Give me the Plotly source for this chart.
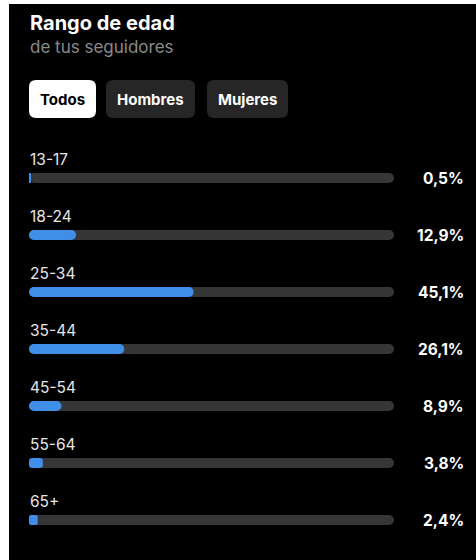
import plotly.graph_objects as go

# ---- data ----
age_groups = ["13-17", "18-24", "25-34", "35-44", "45-54", "55-64", "65+"]
percentages = [0.5, 12.9, 45.1, 26.1, 8.9, 3.8, 2.4]
tab_labels = ["Todos", "Hombres", "Mujeres"]
title_text = "Rango de edad"
subtitle_text = "de tus seguidores"

W, H = 476, 560
FONT = "Inter, Roboto, 'Open Sans', sans-serif"
BLUE = "#3f8ee8"
TRACK = "#363636"
BAR_W = 0.1754


def px(x):
    return x / W


def py(y):
    return 1 - y / H


def rounded_rect(x0, y0, x1, y1, r):
    pts = [
        f"M {px(x0 + r)},{py(y0)}",
        f"L {px(x1 - r)},{py(y0)}",
        f"Q {px(x1)},{py(y0)} {px(x1)},{py(y0 + r)}",
        f"L {px(x1)},{py(y1 - r)}",
        f"Q {px(x1)},{py(y1)} {px(x1 - r)},{py(y1)}",
        f"L {px(x0 + r)},{py(y1)}",
        f"Q {px(x0)},{py(y1)} {px(x0)},{py(y1 - r)}",
        f"L {px(x0)},{py(y0 + r)}",
        f"Q {px(x0)},{py(y0)} {px(x0 + r)},{py(y0)}",
        "Z",
    ]
    return " ".join(pts)


def pill(values, color, hover):
    # two rounded half-bars from the middle + a square filler over the joint
    halves = [v / 2 for v in values]
    out = []
    for sign in (1, -1):
        out.append(go.Bar(
            y=age_groups, x=[sign * h for h in halves], base=halves,
            orientation="h", width=BAR_W,
            marker=dict(color=color, line=dict(width=0), cornerradius=5),
            hoverinfo="skip", showlegend=False,
        ))
    out.append(go.Bar(
        y=age_groups, x=halves, base=[v / 4 for v in values],
        orientation="h", width=BAR_W,
        marker=dict(color=color, line=dict(width=0)),
        customdata=values,
        hovertemplate="%{y}: %{customdata}%<extra></extra>" if hover else None,
        hoverinfo=None if hover else "skip",
        showlegend=False,
    ))
    return out


fig = go.Figure()
for t in pill([100] * len(age_groups), TRACK, False):
    fig.add_trace(t)
for t in pill(percentages, BLUE, True):
    fig.add_trace(t)

annotations = []
for g, v in zip(age_groups, percentages):
    annotations.append(dict(
        x=px(28), xref="paper", y=g, yref="y", yshift=19,
        text=g, showarrow=False, xanchor="left", yanchor="middle",
        font=dict(family=FONT, size=15.5, color="#e6e6e6"),
    ))
    annotations.append(dict(
        x=px(466), xref="paper", y=g, yref="y",
        text="<b>" + f"{v:.1f}".replace(".", ",") + "%</b>",
        showarrow=False, xanchor="right", yanchor="middle",
        font=dict(family=FONT, size=15.5, color="#ffffff"),
    ))

annotations.append(dict(
    x=px(28), y=py(23), xref="paper", yref="paper", text="<b>" + title_text + "</b>",
    showarrow=False, xanchor="left", yanchor="middle",
    font=dict(family=FONT, size=20, color="#ffffff"),
))
annotations.append(dict(
    x=px(28), y=py(47), xref="paper", yref="paper", text=subtitle_text,
    showarrow=False, xanchor="left", yanchor="middle",
    font=dict(family=FONT, size=17, color="#8a8a8a"),
))

shapes = [
    dict(type="rect", xref="paper", yref="paper", x0=0, x1=px(9), y0=0, y1=1,
         fillcolor="white", line=dict(width=0), layer="below"),
    dict(type="rect", xref="paper", yref="paper", x0=0, x1=1, y0=py(4), y1=1,
         fillcolor="white", line=dict(width=0), layer="below"),
]

btn_boxes = [(29, 96), (106, 195), (207, 288)]
for i, (lab, (bx0, bx1)) in enumerate(zip(tab_labels, btn_boxes)):
    active = i == 0
    shapes.append(dict(
        type="path", xref="paper", yref="paper",
        path=rounded_rect(bx0, 80, bx1, 118, 7),
        fillcolor="#ffffff" if active else "#262626",
        line=dict(width=0), layer="below",
    ))
    annotations.append(dict(
        x=px((bx0 + bx1) / 2), y=py(99.5), xref="paper", yref="paper",
        text="<b>" + lab + "</b>", showarrow=False,
        xanchor="center", yanchor="middle",
        font=dict(family=FONT, size=15, color="#000000" if active else "#ffffff"),
    ))

fig.update_layout(
    width=W, height=H,
    margin=dict(l=0, r=0, t=0, b=0),
    paper_bgcolor="#000000", plot_bgcolor="rgba(0,0,0,0)",
    barmode="overlay",
    xaxis=dict(domain=[px(29), px(394)], range=[0, 100], visible=False, fixedrange=True),
    yaxis=dict(domain=[0, 1], range=[6.7018, -3.1228], visible=False, fixedrange=True,
               categoryorder="array", categoryarray=age_groups),
    annotations=annotations, shapes=shapes,
)

fig.write_html("out.html", config={"displayModeBar": False},
               post_script="document.body.style.margin='0';document.body.style.overflow='hidden';")
